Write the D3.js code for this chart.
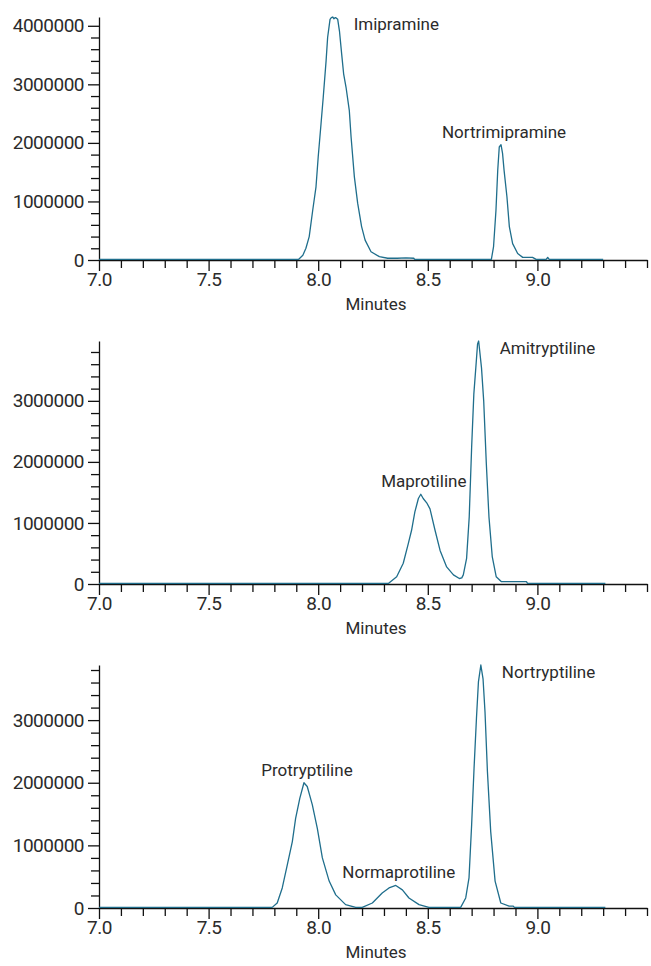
<!DOCTYPE html>
<html>
<head>
<meta charset="utf-8">
<script src="https://cdn.jsdelivr.net/npm/d3@7"></script>
<style>
    body { margin: 0; background: #ffffff; }
    svg { display: block; }
</style>
</head>
<body>
<div id="container"></div>
<script>
// x axis: minutes, one tick every 0.1 min
const minuteTicks = d3.range(0, 26).map(i => +(7 + i / 10).toFixed(1));

// trace 1 (imipramine / nortrimipramine)
const trace1Minutes = [7.00, 7.91, 7.93, 7.944, 7.959, 7.975, 7.99, 8.0, 8.013, 8.023, 8.036, 8.043, 8.054, 8.06, 8.066,
    8.072, 8.078, 8.083, 8.089, 8.097, 8.107, 8.116, 8.127, 8.142, 8.15, 8.165, 8.18, 8.198, 8.214, 8.241, 8.279, 8.317,
    8.36, 8.40, 8.436, 8.44, 8.79, 8.80, 8.811, 8.819, 8.826, 8.834, 8.841, 8.848, 8.861, 8.872, 8.887, 8.91, 8.933,
    8.978, 8.994, 9.04, 9.047, 9.054, 9.30];
const trace1Counts = [10000, 10000, 80000, 200000, 400000, 850000, 1250000, 1760000, 2330000, 2780000, 3400000, 3800000, 4110000, 4140000, 4150000,
    4120000, 4140000, 4130000, 4110000, 3910000, 3520000, 3180000, 2950000, 2550000, 2100000, 1420000, 970000, 570000, 340000, 140000, 57000, 30000,
    30000, 35000, 30000, 10000, 10000, 230000, 850000, 1530000, 1930000, 1970000, 1820000, 1530000, 1080000, 570000, 280000, 110000, 45000,
    45000, 10000, 10000, 45000, 10000, 10000];

// trace 2 (maprotiline / amitryptiline)
const trace2Minutes = [7.00, 8.32, 8.358, 8.388, 8.411, 8.426, 8.441, 8.457, 8.468, 8.479, 8.495, 8.51, 8.533, 8.556, 8.586,
    8.617, 8.644, 8.655, 8.662, 8.677, 8.689, 8.70, 8.71, 8.719, 8.727, 8.732, 8.745, 8.755, 8.767, 8.779, 8.794, 8.812,
    8.835, 8.95, 8.955, 9.31];
const trace2Counts = [10000, 10000, 120000, 340000, 660000, 880000, 1180000, 1400000, 1470000, 1400000, 1330000, 1230000, 880000, 550000, 280000,
    150000, 90000, 100000, 150000, 420000, 1100000, 2240000, 3110000, 3540000, 3930000, 3980000, 3540000, 3000000, 1970000, 1100000, 450000, 120000,
    40000, 40000, 10000, 10000];

// trace 3 (protryptiline / normaprotiline / nortryptiline)
const trace3Minutes = [7.00, 7.79, 7.813, 7.836, 7.859, 7.882, 7.897, 7.916, 7.935, 7.95, 7.973, 7.996, 8.019, 8.05, 8.08,
    8.125, 8.171, 8.201, 8.247, 8.292, 8.323, 8.354, 8.384, 8.414, 8.46, 8.505, 8.65, 8.673, 8.688, 8.70, 8.711, 8.722,
    8.731, 8.742, 8.752, 8.761, 8.772, 8.787, 8.807, 8.833, 8.871, 8.89, 8.895, 9.31];
const trace3Counts = [10000, 10000, 80000, 320000, 690000, 1060000, 1430000, 1750000, 2000000, 1940000, 1650000, 1270000, 800000, 430000, 210000,
    54000, 10000, 10000, 80000, 240000, 320000, 360000, 290000, 160000, 54000, 10000, 10000, 160000, 480000, 1330000, 2230000, 3030000,
    3610000, 3880000, 3660000, 3130000, 2180000, 1220000, 430000, 80000, 30000, 30000, 10000, 10000];

// peak names with retention times
const panel1Peaks = ['Imipramine', 'Nortrimipramine'];
const panel1PeakTimes = [8.066, 8.834];
const panel2Peaks = ['Maprotiline', 'Amitryptiline'];
const panel2PeakTimes = [8.468, 8.732];
const panel3Peaks = ['Protryptiline', 'Normaprotiline', 'Nortryptiline'];
const panel3PeakTimes = [7.935, 8.354, 8.742];

const panels = [
    {minutes: trace1Minutes, counts: trace1Counts, peaks: panel1Peaks, peakTimes: panel1PeakTimes, spots: ['right', 'above']},
    {minutes: trace2Minutes, counts: trace2Counts, peaks: panel2Peaks, peakTimes: panel2PeakTimes, spots: ['above', 'right']},
    {minutes: trace3Minutes, counts: trace3Counts, peaks: panel3Peaks, peakTimes: panel3PeakTimes, spots: ['above', 'above', 'right']},
];

const font = 'Roboto, "Liberation Sans", sans-serif';
const textColor = '#2b2b2b';
const lineColor = '#1f6e8c';
const left = 99, right = 647, plotHeight = 243;

const svg = d3.select('#container')
    .append('svg')
    .attr('width', 651)
    .attr('height', 966)
    .style('background-color', '#ffffff');

panels.forEach((panel, index) => {
    const bottom = 260 + index * 324;
    const data = panel.minutes.map((m, i) => [m, panel.counts[i]]);
    const maxCount = d3.max(panel.counts);

    const x = d3.scaleLinear().domain([7, 9.5]).range([left, right]);
    const y = d3.scaleLinear().domain([0, maxCount]).range([bottom, bottom - plotHeight]);

    const group = svg.append('g');

    // y axis, minor ticks every 200000
    const yAxis = group.append('g')
        .attr('transform', `translate(${left},0)`)
        .call(d3.axisLeft(y)
            .tickValues(d3.range(0, maxCount, 200000))
            .tickSize(8)
            .tickSizeOuter(0)
            .tickFormat(d => d % 1000000 === 0 ? d3.format('d')(d) : ''));
    yAxis.selectAll('.tick line')
        .attr('x2', d => d % 1000000 === 0 ? -11 : -8);
    yAxis.selectAll('.tick text')
        .attr('x', -15)
        .style('font-family', font)
        .style('font-size', '19px')
        .style('letter-spacing', '-0.5px')
        .style('fill', textColor);

    // x axis
    const xAxis = group.append('g')
        .attr('transform', `translate(0,${bottom})`)
        .call(d3.axisBottom(x)
            .tickValues(minuteTicks)
            .tickSize(8)
            .tickSizeOuter(0)
            .tickFormat(d => (Math.round(d * 10) % 5 === 0 && d <= 9.0) ? d.toFixed(1) : ''));
    xAxis.selectAll('.tick line')
        .attr('y2', d => Math.round(d * 10) % 5 === 0 && d <= 9.0 ? 11 : 8);
    xAxis.selectAll('.tick text')
        .attr('y', 13)
        .style('font-family', font)
        .style('font-size', '19px')
        .style('letter-spacing', '-0.5px')
        .style('fill', textColor);

    [yAxis, xAxis].forEach(a => {
        a.selectAll('path, line').attr('stroke', '#111').attr('stroke-width', 1.3);
    });

    group.append('text')
        .text('Minutes')
        .attr('x', (left + right) / 2 + 3)
        .attr('y', bottom + 50)
        .attr('text-anchor', 'middle')
        .style('font-family', font)
        .style('font-size', '17px')
        .style('fill', textColor);

    // chromatogram trace
    group.append('path')
        .datum(data)
        .attr('fill', 'none')
        .attr('stroke', lineColor)
        .attr('stroke-width', 1.3)
        .attr('stroke-linejoin', 'round')
        .attr('d', d3.line().x(d => x(d[0])).y(d => y(d[1])));

    // peak names next to each apex
    panel.peaks.forEach((name, k) => {
        const near = data.filter(d => Math.abs(d[0] - panel.peakTimes[k]) < 0.06);
        const apex = near.reduce((a, b) => b[1] > a[1] ? b : a);
        const above = panel.spots[k] === 'above';
        group.append('text')
            .text(name)
            .attr('x', x(apex[0]) + (above ? 3 : 21))
            .attr('y', y(apex[1]) + (above ? -7 : 13))
            .attr('text-anchor', above ? 'middle' : 'start')
            .style('font-family', font)
            .style('font-size', '17px')
            .style('fill', textColor);
    });
});
</script>
</body>
</html>
